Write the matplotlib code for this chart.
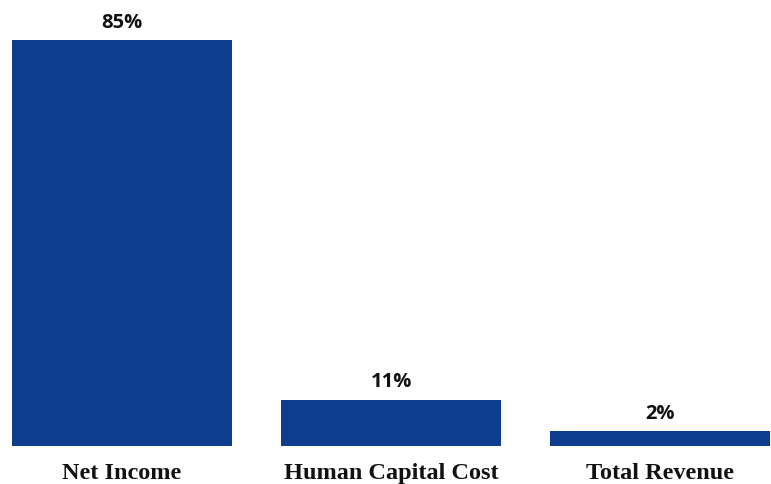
import matplotlib.pyplot as plt

# values
categories = ["Net Income", "Human Capital Cost", "Total Revenue"]
bar_heights = [85, 9.65, 3.05]      # drawn heights, as measured
bar_labels = ["85%", "11%", "2%"]    # printed labels

BAR_COLOR = "#0d3d8f"


def main():
    fig = plt.figure(figsize=(7.71, 4.85), dpi=100)
    # axes spans the bar area exactly: 12..770 px wide, baseline at 447 px
    ax = fig.add_axes([12 / 771, 38 / 485, 758 / 771, 405.6 / 485])

    x = range(len(categories))
    bars = ax.bar(x, bar_heights, width=0.818, color=BAR_COLOR)

    for rect, lab in zip(bars, bar_labels):
        ax.annotate(lab, (rect.get_x() + rect.get_width() / 2, rect.get_height()),
                    xytext=(0, 9.9), textcoords="offset points",
                    ha="center", va="baseline",
                    family="Open Sans", fontweight="bold", fontsize=14.5,
                    color="#111111")

    ax.set_xlim(-0.409, 2.409)
    ax.set_ylim(0, 85)
    ax.set_xticks(list(x))
    ax.set_xticklabels(categories, family="Liberation Serif", fontweight="bold",
                       fontsize=17.5, color="#111111")
    ax.tick_params(axis="x", length=0, pad=11.5)
    ax.set_yticks([])
    for s in ax.spines.values():
        s.set_visible(False)

    fig.savefig("out.png", dpi=100)


if __name__ == "__main__":
    main()
